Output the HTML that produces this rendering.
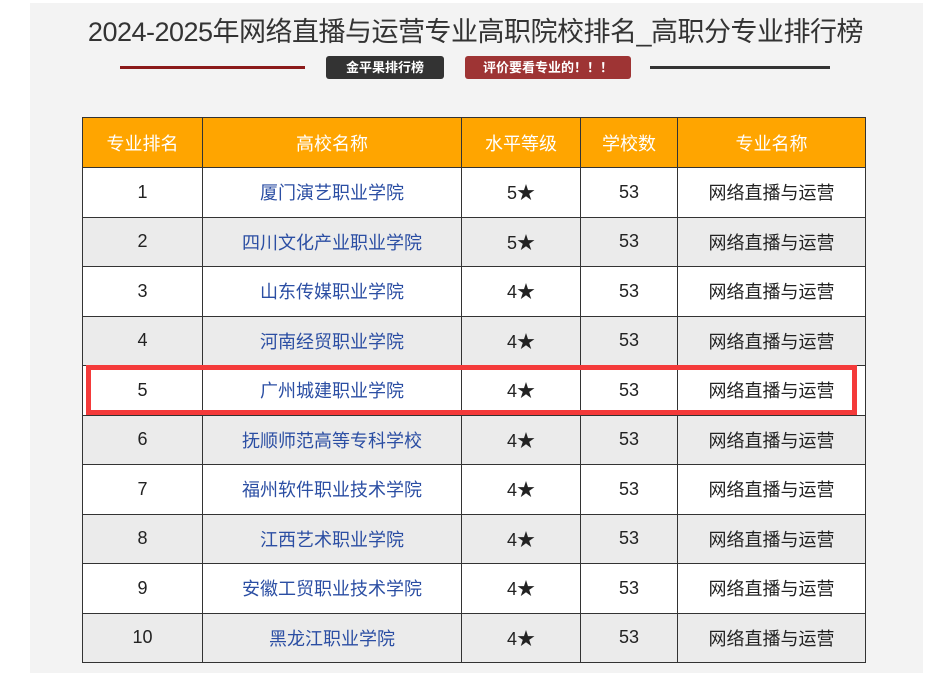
<!DOCTYPE html>
<html><head><meta charset="utf-8"><style>
body{margin:0;width:951px;height:673px;background:#fff;font-family:"Liberation Sans","Noto Sans CJK SC",sans-serif;position:relative;overflow:hidden}
.panel{position:absolute;left:30px;top:3px;width:893px;height:670px;background:#f3f3f3}
.title{position:absolute;left:0;width:951px;top:10px;text-align:center;font-size:27px;color:#333;letter-spacing:-0.5px}
.line{position:absolute;top:66px;height:3px}
.badge{position:absolute;top:56px;height:23px;border-radius:3px;color:#fff;font-size:13px;font-weight:bold;line-height:23px;text-align:center}
table{position:absolute;left:82px;top:117px;border-collapse:collapse;font-size:18px}
td{border:1px solid #333;text-align:center;padding:0;height:48.5px}
tr.h td{background:#ffa500;color:#fff;height:49px}
tr:nth-child(odd):not(.h) td{background:#ebebeb}
tr td{background:#fff;color:#222}
td.n{color:#2b4ea3}
.hl{position:absolute;left:86px;top:365px;width:761px;height:40px;border:5px solid #f43a3a}
</style></head><body>
<div class="panel"></div>
<div class="title">2024-2025年网络直播与运营专业高职院校排名_高职分专业排行榜</div>
<div class="line" style="left:120px;width:185px;background:#8b1a1a"></div>
<div class="badge" style="left:326px;width:118px;background:#333">金平果排行榜</div>
<div class="badge" style="left:465px;width:166px;background:#9e3434">评价要看专业的！！！</div>
<div class="line" style="left:650px;width:180px;background:#333"></div>
<table>
<colgroup><col style="width:120px"><col style="width:259px"><col style="width:119px"><col style="width:97px"><col style="width:188px"></colgroup>
<tr class="h"><td>专业排名</td><td>高校名称</td><td>水平等级</td><td>学校数</td><td>专业名称</td></tr>
<tr><td>1</td><td class="n">厦门演艺职业学院</td><td>5★</td><td>53</td><td>网络直播与运营</td></tr>
<tr><td>2</td><td class="n">四川文化产业职业学院</td><td>5★</td><td>53</td><td>网络直播与运营</td></tr>
<tr><td>3</td><td class="n">山东传媒职业学院</td><td>4★</td><td>53</td><td>网络直播与运营</td></tr>
<tr><td>4</td><td class="n">河南经贸职业学院</td><td>4★</td><td>53</td><td>网络直播与运营</td></tr>
<tr><td>5</td><td class="n">广州城建职业学院</td><td>4★</td><td>53</td><td>网络直播与运营</td></tr>
<tr><td>6</td><td class="n">抚顺师范高等专科学校</td><td>4★</td><td>53</td><td>网络直播与运营</td></tr>
<tr><td>7</td><td class="n">福州软件职业技术学院</td><td>4★</td><td>53</td><td>网络直播与运营</td></tr>
<tr><td>8</td><td class="n">江西艺术职业学院</td><td>4★</td><td>53</td><td>网络直播与运营</td></tr>
<tr><td>9</td><td class="n">安徽工贸职业技术学院</td><td>4★</td><td>53</td><td>网络直播与运营</td></tr>
<tr><td>10</td><td class="n">黑龙江职业学院</td><td>4★</td><td>53</td><td>网络直播与运营</td></tr>
</table>
<div class="hl"></div>
</body></html>
